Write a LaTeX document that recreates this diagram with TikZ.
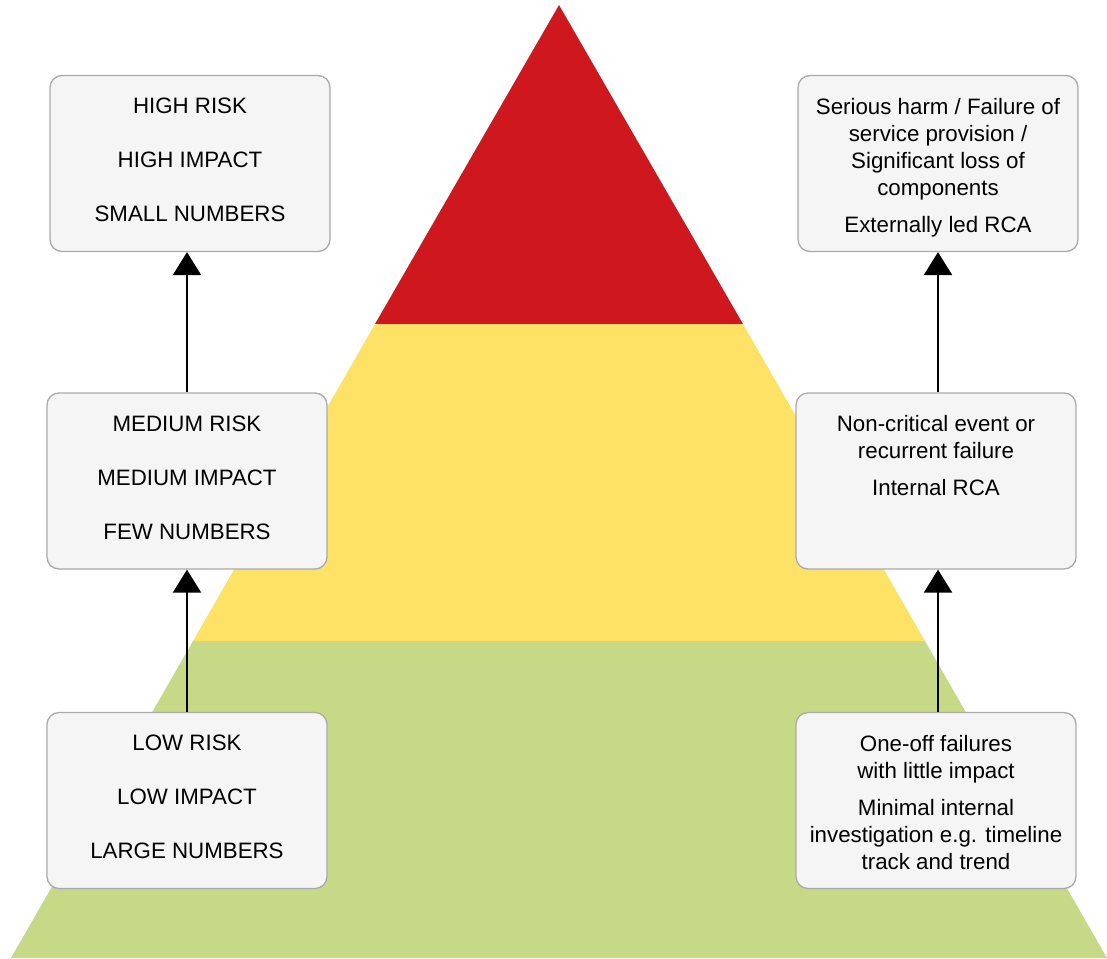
\documentclass[tikz,border=0pt]{standalone}
\usepackage{fontspec}
\setmainfont{Liberation Sans}
\usetikzlibrary{arrows.meta, positioning}
\definecolor{riskred}{RGB}{207,24,30}
\definecolor{riskyellow}{RGB}{254,226,102}
\definecolor{riskgreen}{RGB}{197,217,134}
\definecolor{boxfill}{RGB}{245,245,245}
\definecolor{boxline}{RGB}{170,170,170}

\begin{document}
\begin{tikzpicture}[
  x=1pt, y=-1pt,
  font=\fontsize{22.3}{27}\selectfont,
  card/.style={draw=boxline, line width=1.3pt, fill=boxfill, rounded corners=12pt,
               minimum width=280pt, minimum height=176pt, inner sep=0pt},
  cardtxt/.style={anchor=north, align=center, inner sep=0pt, yshift=-23pt},
  up/.style={-{Triangle[width=28pt,length=23pt]}, line width=2.5pt, black}
]
  \useasboundingbox (0,0) rectangle (1107,958);

  % pyramid bands
  \fill[riskred]    (559,5) -- (743,324) -- (375,324) -- cycle;
  \fill[riskyellow] (375,324) -- (743,324) -- (925,641) -- (193,641) -- cycle;
  \fill[riskgreen]  (193,641) -- (925,641) -- (1107,958) -- (11,958) -- cycle;

  % left column
  \node[card] (highL) at (190,163.5) {};
  \node[card] (medL)  at (187,481)   {};
  \node[card] (lowL)  at (187,800.5) {};
  \node[cardtxt] (highLtxt) at (highL.north) {HIGH RISK\\[27pt]HIGH IMPACT\\[27pt]SMALL NUMBERS};
  \node[cardtxt] (medLtxt)  at (medL.north)  {MEDIUM RISK\\[27pt]MEDIUM IMPACT\\[27pt]FEW NUMBERS};
  \node[cardtxt] (lowLtxt)  at (lowL.north)  {LOW RISK\\[27pt]LOW IMPACT\\[27pt]LARGE NUMBERS};

  % right column
  \node[card] (highR) at (938,163.5) {};
  \node[card] (medR)  at (936,481)   {};
  \node[card] (lowR)  at (936,800.5) {};
  \node[cardtxt] (highRtxt) at (highR.north)
    {Serious harm / Failure of\\service provision /\\Significant loss of\\components\\[10pt]Externally led RCA};
  \node[cardtxt] (medRtxt) at (medR.north)
    {Non-critical event or\\recurrent failure\\[10pt]Internal RCA};
  \node[cardtxt] (lowRtxt) at (lowR.north)
    {One-off failures\\with little impact\\[10pt]Minimal internal\\investigation e.g. timeline\\track and trend};

  % arrows
  \draw[up] (lowL.north) -- (medL.south);
  \draw[up] (medL.north) -- (medL.north |- highL.south);
  \draw[up] ([xshift=2pt]lowR.north) -- ([xshift=2pt]medR.south);
  \draw[up] ([xshift=2pt]medR.north) -- ([xshift=2pt]medR.north |- highR.south);
\end{tikzpicture}
\end{document}
